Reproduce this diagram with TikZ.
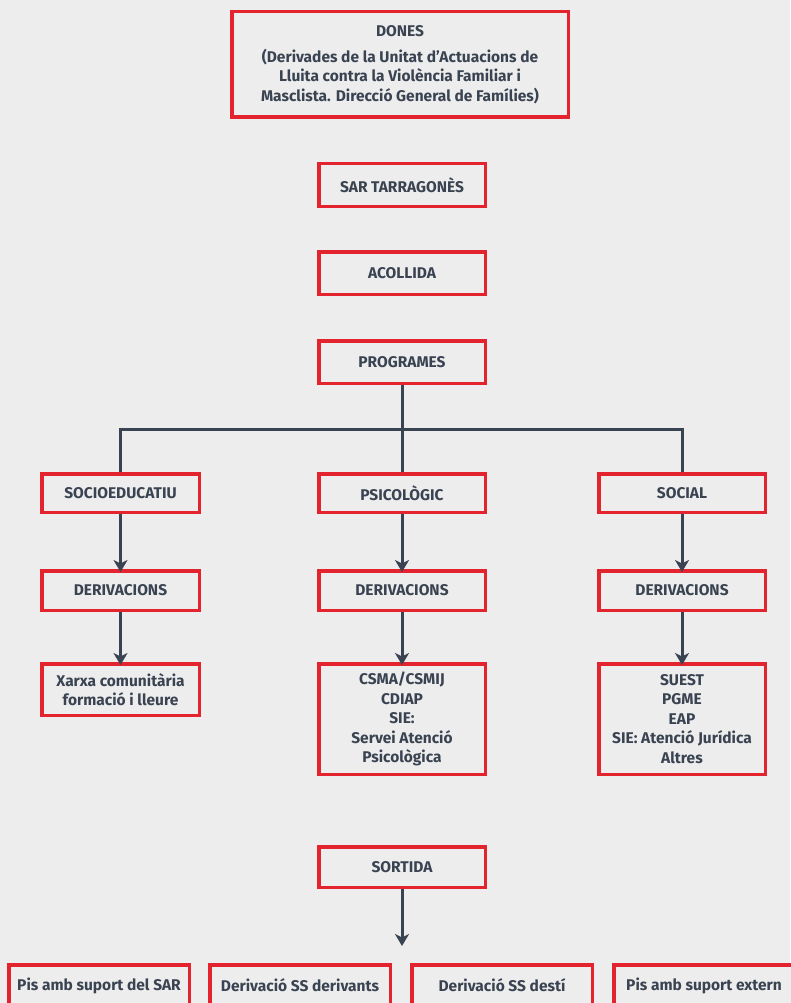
\documentclass[tikz,border=0pt]{standalone}
\usepackage{fontspec}
\setmainfont{Fira Sans}
\usetikzlibrary{arrows.meta}
\definecolor{bg}{HTML}{EDEDED}
\definecolor{boxred}{HTML}{E3242F}
\definecolor{ink}{HTML}{3A4351}
\tikzset{
  box/.style={draw=boxred, line width=3.5pt, fill=bg, align=center, inner sep=0pt,
    text=ink, font=\bfseries\fontsize{15.5}{19.5}\selectfont},
  conn/.style={draw=ink, line width=3pt},
  arr/.style={conn, -{Stealth[length=12pt,width=14pt,inset=3.5pt]}},
}
\begin{document}
\begin{tikzpicture}[x=1pt,y=-1pt]
\fill[bg] (0,0) rectangle (790,1003);
\useasboundingbox (0,0) rectangle (790,1003);
\newcommand{\bx}[6]{% name, x1, y1, x2, y2, text
  \node[box, minimum width=#4-#2-3.5, minimum height=#5-#3-3.5] (#1) at ({(#2+#4)/2},{(#3+#5)/2}) {#6};}
\bx{dones}{230}{10}{570}{119}{DONES\\[6pt](Derivades de la Unitat d’Actuacions de\\Lluita contra la Violència Familiar i\\Masclista. Direcció General de Famílies)}
\bx{sar}{317}{162}{487}{208}{SAR TARRAGONÈS}
\bx{acol}{317}{250}{487}{296}{ACOLLIDA}
\bx{prog}{317}{339}{487}{385}{PROGRAMES}
\bx{socioed}{40}{472}{201}{514}{SOCIOEDUCATIU}
\bx{psico}{317}{472}{487}{514}{PSICOLÒGIC}
\bx{social}{597}{472}{767}{514}{SOCIAL}
\bx{der1}{40}{569}{201}{612}{DERIVACIONS}
\bx{der2}{317}{569}{487}{612}{DERIVACIONS}
\bx{der3}{597}{569}{767}{612}{DERIVACIONS}
\bx{xarxa}{40}{662}{201}{717}{Xarxa comunitària\\formació i lleure}
\bx{csma}{317}{662}{487}{776}{CSMA/CSMIJ\\CDIAP\\SIE:\\Servei Atenció\\Psicològica}
\bx{suest}{597}{662}{767}{776}{SUEST\\PGME\\EAP\\SIE: Atenció Jurídica\\Altres}
\bx{sort}{317}{845}{487}{889}{SORTIDA}
\bx{pis1}{7}{963}{191}{1008}{Pis amb suport del SAR}
\bx{ss1}{208}{963}{392}{1008}{Derivació SS derivants}
\bx{ss2}{410}{963}{594}{1008}{Derivació SS destí}
\bx{pis2}{612}{963}{796}{1008}{Pis amb suport extern}
% connectors
\coordinate (hub) at (prog.south |- 0,429);
\draw[conn] (prog.south) -- (psico.north);
\draw[conn] (socioed.north) |- (hub) -| (social.north);
\draw[arr] (socioed.south) -- ([yshift=-3pt]der1.north);
\draw[arr] (psico.south) -- ([yshift=-3pt]der2.north);
\draw[arr] (social.south) -- ([yshift=-3pt]der3.north);
\draw[arr] (der1.south) -- ([yshift=-3pt]xarxa.north);
\draw[arr] (der2.south) -- ([yshift=-3pt]csma.north);
\draw[arr] (der3.south) -- ([yshift=-3pt]suest.north);
\coordinate (send) at (sort.south |- 0,946);
\draw[arr] (sort.south) -- (send);
\end{tikzpicture}
\end{document}
